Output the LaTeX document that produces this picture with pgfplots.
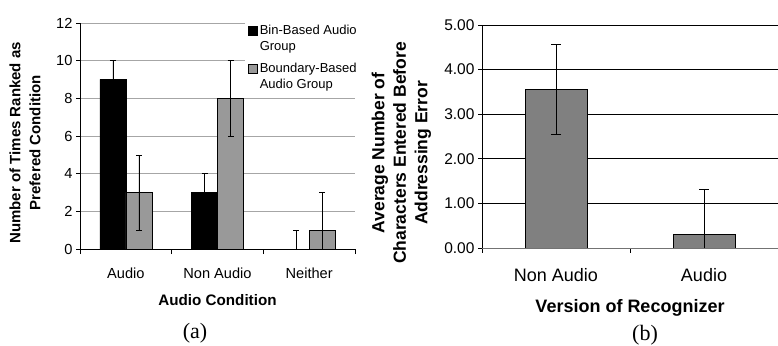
\documentclass[border=0pt]{standalone}
\usepackage{pgfplots}
\usepackage{pgfplotstable}
\pgfplotsset{compat=1.18}
\usepackage{fontspec}
\setmainfont{Liberation Sans}
\newfontfamily\timesfont{Liberation Serif}

\pgfplotstableread{
x bin bine bnd bnde
0 9 1 3 2
1 3 1 8 2
2 0 1 1 2
}\lefttab

\pgfplotstableread{
x val err
0 3.56 1.0
1 0.31 1.0
}\righttab

\pgfplotsset{
  sq/.style={legend image code/.code={\draw[##1, line width=0.6pt] (0pt,3.5pt) rectangle (9pt,12.5pt);}},
  ebar/.style={error bars/.cd, y dir=both, y explicit,
     error bar style={black, line width=0.6pt},
     error mark options={rotate=90, mark size=#1, black, line width=0.6pt}},
}

\begin{document}
\begin{tikzpicture}
\useasboundingbox (0pt,0pt) rectangle (778pt,345pt);
% ---------------- (a)
\begin{axis}[
  at={(80pt,96pt)}, anchor=south west,
  scale only axis, width=275pt, height=226pt,
  xmin=-0.5, xmax=2.5, ymin=0, ymax=12,
  ybar=0pt, bar width=26pt,
  axis x line*=bottom, axis y line*=left,
  x axis line style={-, black, line width=0.7pt},
  y axis line style={-, black, line width=0.7pt},
  xtick={0,1,2}, xticklabels={Audio,Non Audio,Neither},
  major x tick style={draw=none},
  minor xtick={-0.5,0.5,1.5,2.5},
  minor tick length=5pt,
  ytick={0,2,...,12},
  major tick length=4pt,
  tick align=outside,
  tick style={black, line width=0.6pt},
  ymajorgrids, major grid style={black!35, line width=0.6pt},
  /pgf/number format/assume math mode=true,
  tick label style={font=\fontsize{14.6}{17}\selectfont},
  xticklabel style={anchor=base, yshift=-25pt},
  xlabel={Audio Condition},
  xlabel style={font=\bfseries\fontsize{15.2}{18}\selectfont, at={(axis description cs:0.5,0)}, anchor=center, yshift=-51pt},
  ylabel={Number of Times Ranked as\\Prefered Condition},
  ylabel style={font=\bfseries\fontsize{15}{20}\selectfont, align=center, at={(axis description cs:-0.2,0.47)}, anchor=center},
  legend style={at={(axis description cs:0.6,1.013)}, anchor=north west, draw=none, fill=white,
     font=\fontsize{13}{16}\selectfont, cells={align=left, anchor=west}, row sep=7pt, inner sep=3pt},
  clip=true,
]
\addplot[fill=black, draw=black, line width=0.6pt, sq, ebar=3pt] table[x=x, y=bin, y error=bine] {\lefttab};
\addplot[fill=black!40, draw=black, line width=0.6pt, sq, ebar=3pt] table[x=x, y=bnd, y error=bnde] {\lefttab};
\legend{{Bin-Based Audio\\Group},{Boundary-Based\\Audio Group}}
\end{axis}
% ---------------- (b)
\begin{axis}[
  at={(482pt,97pt)}, anchor=south west,
  scale only axis, width=296pt, height=223pt,
  xmin=-0.5, xmax=1.5, ymin=0, ymax=5,
  ybar=0pt, bar width=62pt,
  axis x line*=bottom, axis y line*=left,
  x axis line style={-, black!55, line width=0.9pt},
  y axis line style={-, black, line width=0.7pt},
  xtick={0,1}, xticklabels={Non Audio,Audio},
  major x tick style={draw=none},
  minor xtick={-0.5,0.5,1.5},
  minor tick length=5pt,
  ytick={0,1,...,5},
  major tick length=4pt,
  tick align=outside,
  tick style={black, line width=0.6pt},
  ymajorgrids, major grid style={black, line width=0.6pt},
  /pgf/number format/assume math mode=true,
  yticklabel style={font=\fontsize{15.5}{18}\selectfont, /pgf/number format/.cd, fixed, fixed zerofill, precision=2},
  xticklabel style={font=\fontsize{18}{21}\selectfont, anchor=base, yshift=-30pt},
  xlabel={Version of Recognizer},
  xlabel style={font=\bfseries\fontsize{18}{21}\selectfont, at={(axis description cs:0.5,0)}, anchor=center, yshift=-60pt},
  ylabel={Average Number of\\Characters Entered Before\\Addressing Error},
  ylabel style={font=\bfseries\fontsize{17.5}{21.5}\selectfont, align=center, at={(axis description cs:-0.272,0.426)}, anchor=center},
  clip=true,
]
\addplot[fill=black!50, draw=black, line width=0.6pt, ebar=5pt] table[x=x, y=val, y error=err] {\righttab};
\end{axis}
\node[font=\timesfont\fontsize{22}{24}\selectfont] at (195pt,12pt) {(a)};
\node[font=\timesfont\fontsize{22}{24}\selectfont] at (645pt,10pt) {(b)};
\end{tikzpicture}
\end{document}
